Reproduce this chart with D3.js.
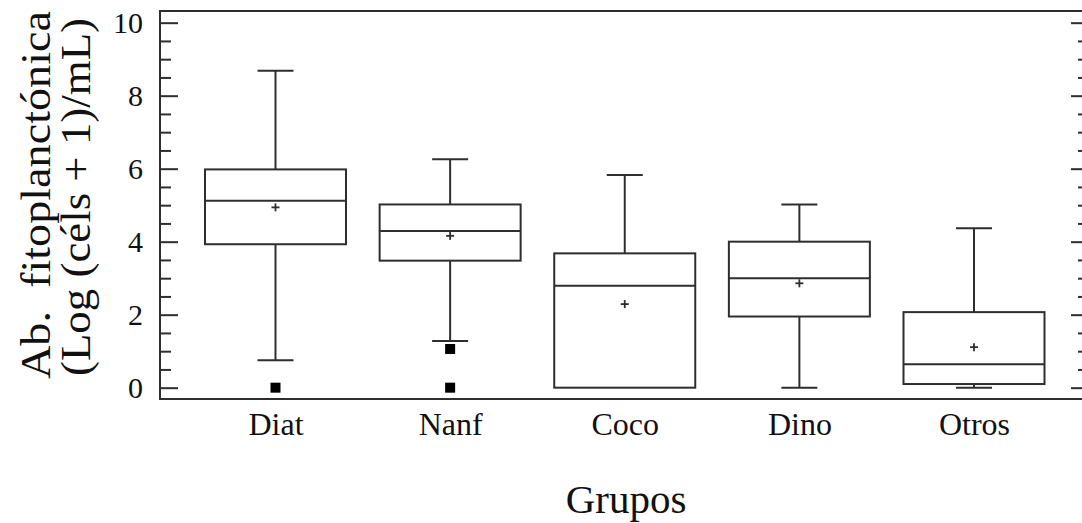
<!DOCTYPE html>
<html>
<head>
<meta charset="utf-8">
<script src="https://cdn.jsdelivr.net/npm/d3@7"></script>
<style>
  html, body { margin: 0; padding: 0; background: #fff; }
  svg { display: block; }
  text { font-family: "Liberation Serif", "Times New Roman", serif; fill: #111; }
</style>
</head>
<body>
<svg id="chart" width="1082" height="523"></svg>
<script>
// Phytoplankton abundance by group, log(cells + 1)/mL
const groups       = ["Diat", "Nanf", "Coco", "Dino", "Otros"];
const whiskerLow   = [0.75, 1.28, 0.00, 0.00, 0.00];
const quartile1    = [3.93, 3.48, 0.00, 1.95, 0.10];
const medians      = [5.12, 4.29, 2.79, 3.00, 0.64];
const quartile3    = [5.98, 5.02, 3.68, 4.00, 2.07];
const whiskerHigh  = [8.68, 6.26, 5.83, 5.02, 4.37];
const means        = [4.94, 4.16, 2.29, 2.86, 1.11];
const outlierGroup = ["Diat", "Nanf", "Nanf"];
const outlierValue = [0.00, 1.06, 0.00];
const yTicks       = [0, 2, 4, 6, 8, 10];

const svg = d3.select("#chart");
const ink = "#2e2e2e";

const frame = { left: 160, right: 1089, top: 11, bottom: 399 };

const y = d3.scaleLinear().domain([-0.31, 10.32]).range([frame.bottom, frame.top]);
const x = d3.scalePoint().domain(groups).range([275.5, 974]);

const boxW = 141, capW = 36;

// frame: left, top, bottom spines (right spine sits at the page edge)
svg.append("rect")
  .attr("x", frame.left).attr("y", frame.top)
  .attr("width", frame.right - frame.left).attr("height", frame.bottom - frame.top)
  .attr("fill", "none").attr("stroke", ink).attr("stroke-width", 2);

// major + minor ticks, pointing inward on both sides
const minorTicks = d3.range(0, 10.01, 0.5).filter(v => !yTicks.includes(v));

const leftMajor = d3.axisRight(y).tickValues(yTicks).tickSize(18).tickFormat("");
const leftMinor = d3.axisRight(y).tickValues(minorTicks).tickSize(11).tickFormat("");
const rightMajor = d3.axisLeft(y).tickValues(yTicks).tickSize(18).tickFormat("");
const rightMinor = d3.axisLeft(y).tickValues(minorTicks).tickSize(11).tickFormat("");

[[leftMajor, frame.left], [leftMinor, frame.left], [rightMajor, frame.right], [rightMinor, frame.right]]
  .forEach(([ax, px]) => {
    const g = svg.append("g").attr("transform", `translate(${px},0)`).call(ax);
    g.select(".domain").remove();
    g.selectAll("line").attr("stroke", ink).attr("stroke-width", 2);
  });

// y tick labels
const yLab = d3.axisLeft(y).tickValues(yTicks).tickSize(0).tickPadding(17).tickFormat(d3.format("d"));
const gl = svg.append("g").attr("transform", `translate(${frame.left},0)`).call(yLab);
gl.select(".domain").remove();
gl.selectAll("text")
  .attr("font-size", 30)
  .attr("font-family", "Liberation Serif, serif")
  .attr("fill", "#111");

// category labels
const xLab = d3.axisBottom(x).tickSize(0).tickPadding(0);
const gx = svg.append("g").attr("transform", `translate(0,${frame.bottom})`).call(xLab);
gx.select(".domain").remove();
gx.selectAll("text")
  .attr("font-size", 32)
  .attr("font-family", "Liberation Serif, serif")
  .attr("fill", "#111")
  .attr("dy", null)
  .attr("y", 36);

// boxes
const rows = groups.map((g, i) => ({
  g, lo: whiskerLow[i], q1: quartile1[i], med: medians[i],
  q3: quartile3[i], hi: whiskerHigh[i], mean: means[i]
}));

const box = svg.append("g").attr("stroke", ink).attr("stroke-width", 2).attr("fill", "none");

rows.forEach(r => {
  const cx = x(r.g);
  const gg = box.append("g");
  // whiskers
  gg.append("line").attr("x1", cx).attr("x2", cx).attr("y1", y(r.q3)).attr("y2", y(r.hi));
  gg.append("line").attr("x1", cx).attr("x2", cx).attr("y1", y(r.q1)).attr("y2", y(r.lo));
  gg.append("line").attr("x1", cx - capW / 2).attr("x2", cx + capW / 2).attr("y1", y(r.hi)).attr("y2", y(r.hi));
  if (r.lo < r.q1) {
    gg.append("line").attr("x1", cx - capW / 2).attr("x2", cx + capW / 2).attr("y1", y(r.lo)).attr("y2", y(r.lo));
  }
  // box
  gg.append("rect")
    .attr("x", cx - boxW / 2).attr("width", boxW)
    .attr("y", y(r.q3)).attr("height", y(r.q1) - y(r.q3))
    .attr("fill", "#fff");
  // median
  gg.append("line").attr("x1", cx - boxW / 2).attr("x2", cx + boxW / 2).attr("y1", y(r.med)).attr("y2", y(r.med));
  // mean marker
  const my = y(r.mean);
  gg.append("line").attr("x1", cx - 4).attr("x2", cx + 4).attr("y1", my).attr("y2", my).attr("stroke-width", 1.8);
  gg.append("line").attr("x1", cx).attr("x2", cx).attr("y1", my - 4).attr("y2", my + 4).attr("stroke-width", 1.8);
});

// outliers
svg.append("g").selectAll("rect")
  .data(outlierGroup.map((g, i) => ({ g, v: outlierValue[i] })))
  .join("rect")
  .attr("x", d => x(d.g) - 5).attr("y", d => y(d.v) - 5)
  .attr("width", 10).attr("height", 10)
  .attr("fill", "#000");

// axis titles
svg.append("text")
  .attr("x", (frame.left + 1082) / 2 + 5).attr("y", 513)
  .attr("text-anchor", "middle")
  .attr("font-size", 41)
  .text("Grupos");

const yt = svg.append("text")
  .attr("transform", "translate(0,0) rotate(-90)")
  .attr("text-anchor", "middle")
  .attr("font-size", 42)
  .attr("xml:space", "preserve")
  .style("white-space", "pre");
yt.append("tspan").attr("x", -195).attr("y", 50)
  .attr("textLength", 368).attr("lengthAdjust", "spacingAndGlyphs")
  .text("Ab.  fitoplanctónica");
yt.append("tspan").attr("x", -197).attr("y", 90)
  .attr("textLength", 358).attr("lengthAdjust", "spacingAndGlyphs")
  .text("(Log (céls + 1)/mL)");
</script>
</body>
</html>
